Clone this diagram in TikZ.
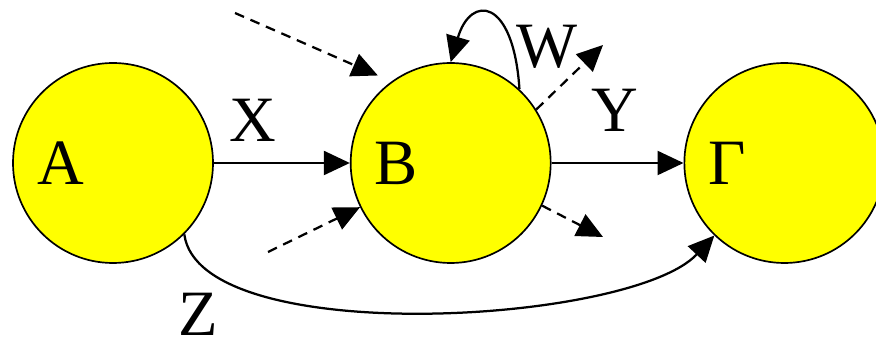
\documentclass[tikz,border=0pt]{standalone}
\usepackage{fontspec}
\setmainfont{Liberation Serif}
\usetikzlibrary{arrows.meta, positioning}
\definecolor{stateyellow}{RGB}{255,255,0}
\newcommand{\bigtxt}{\rmfamily\fontsize{46}{52}\selectfont}
\tikzset{
  state/.style={
    circle, draw=black, fill=stateyellow, line width=1.2pt,
    minimum size=5cm, inner sep=0pt,
    text width=3.8cm, align=left, font=\bigtxt
  },
  letter/.style={font=\bigtxt, inner sep=0pt},
  edge/.style={-{Triangle[length=0.65cm, width=0.6cm]}, line width=1.6pt, draw=black},
  dashedge/.style={edge, dash pattern=on 7pt off 5pt},
}

\begin{document}
\begin{tikzpicture}[node distance=3.35cm]
  \useasboundingbox (0,0) rectangle (21.9,-8.525);

  \node[state] (A) at (2.825,-4.075) {A};
  \node[state, right=3.4cm of A] (B) {B};
  \node[state, right=3.3cm of B] (gam) {Γ};

  % free ends of the dashed arrows
  \coordinate (inTop) at (5.875,-0.325);
  \coordinate (inBot) at (6.7,-6.3);
  \coordinate (outTop) at (15.075,-1.125);
  \coordinate (outBot) at (15.075,-5.925);

  \draw[edge] (A) -- node[letter, pos=0.29, above=0.52cm] {X} (B);
  \draw[edge] (B) -- node[letter, pos=0.48, above=0.75cm] {Y} (gam);
  \draw[edge] (B.47) .. controls +(-0.15,2.3) and +(0.5,1.7) .. (B.north);
  \draw[edge] (A.-45) .. controls +(0.375,-2.875) and +(-2.075,-2.225) .. (gam.-134);

  \draw[dashedge, shorten >=0.37cm] (inTop) -- (B.126);
  \draw[dashedge] (inBot) -- (B.206);
  \draw[dashedge] (B.32) -- (outTop);
  \draw[dashedge] (B.-25) -- (outBot);

  \node[letter] (wlbl) at (13.675,-1.175) {W};
  \node[letter] (zlbl) at (4.95,-7.85) {Z};
\end{tikzpicture}
\end{document}
